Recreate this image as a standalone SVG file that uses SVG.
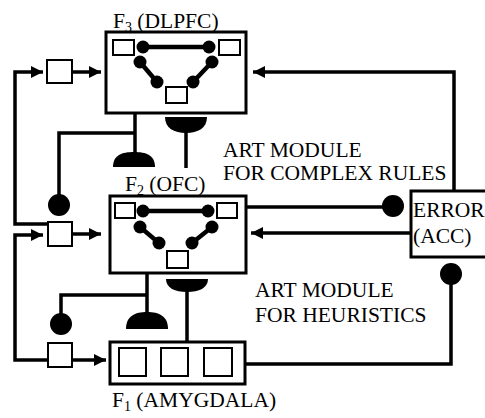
<svg xmlns="http://www.w3.org/2000/svg" width="485" height="418" viewBox="0 0 485 418" font-family="'Liberation Serif', serif" font-size="21.5">
<defs>
<style>
.box{fill:#fff;stroke:#000;stroke-width:3}
.sq{fill:#fff;stroke:#000;stroke-width:2}
.ln{fill:none;stroke:#000;stroke-width:3.5}
.cn{fill:none;stroke:#000;stroke-width:4.5}
.blk{fill:#000}
.t{font-family:'Liberation Serif', serif;font-size:21.5px;fill:#000}
.sub{font-size:14px}
</style>
<marker id="ah" viewBox="0 0 12 12" refX="12" refY="6" markerWidth="12" markerHeight="12" markerUnits="userSpaceOnUse" orient="auto">
<path d="M0,0 L12,6 L0,12 Z" fill="#000"/>
</marker>
</defs>

<g id="connectors">
<polyline class="ln" points="48,224 15,224 15,72 43,72" marker-end="url(#ah)"/>
<polyline class="ln" points="48,360 15,360 15,235 43,235" marker-end="url(#ah)"/>
<line class="ln" x1="72" y1="72" x2="101" y2="72" marker-end="url(#ah)"/>
<line class="ln" x1="72" y1="234" x2="101" y2="234" marker-end="url(#ah)"/>
<line class="ln" x1="72" y1="360" x2="106" y2="360" marker-end="url(#ah)"/>
<line class="ln" x1="135" y1="113" x2="135" y2="153"/>
<polyline class="ln" points="135,133 59,133 59,205"/>
<circle class="blk" cx="59" cy="205" r="11"/>
<path class="blk" d="M113,167 C113,155 122,152 134,152 C146,152 155,155 155,167 Z"/>
<path class="blk" d="M165,117 L207,117 C207,128 198,133 186,133 C174,133 165,128 165,117 Z"/>
<line class="ln" x1="186" y1="130" x2="186" y2="168"/>
<line class="ln" x1="147" y1="273" x2="147" y2="313"/>
<polyline class="ln" points="147,295 61,295 61,324"/>
<circle class="blk" cx="61" cy="324" r="11"/>
<path class="blk" d="M126,329 C126,316 135,312 147,312 C159,312 168,316 168,329 Z"/>
<path class="blk" d="M166,279 L208,279 C208,288 199,292 187,292 C175,292 166,288 166,279 Z"/>
<line class="ln" x1="187" y1="289" x2="187" y2="342"/>
<polyline class="ln" points="454,191 454,72 253,72" marker-end="url(#ah)"/>
<line class="ln" x1="246" y1="207" x2="393" y2="207"/>
<circle class="blk" cx="393" cy="206" r="11"/>
<line class="ln" x1="411" y1="233" x2="251" y2="233" marker-end="url(#ah)"/>
<polyline class="ln" points="245,364 451,364 451,274"/>
<circle class="blk" cx="451" cy="274" r="11"/>
</g>

<g id="sq3"><rect class="sq" x="47" y="60" width="25" height="23"/></g>
<g id="sq2"><rect class="sq" x="48" y="222" width="24" height="24"/></g>
<g id="sq1"><rect class="sq" x="48" y="343" width="24" height="24"/></g>

<g id="F3">
<rect class="box" x="106" y="32" width="140" height="81"/>
<rect class="sq" x="113" y="40" width="21" height="15"/>
<rect class="sq" x="219" y="40" width="21" height="15"/>
<rect class="sq" x="166" y="87" width="21" height="16"/>
<line class="cn" x1="143" y1="47" x2="209" y2="47"/>
<line class="cn" x1="140" y1="62" x2="157" y2="82"/>
<line class="cn" x1="212" y1="62" x2="193" y2="82"/>
<circle class="blk" cx="143" cy="47" r="6.5"/>
<circle class="blk" cx="209" cy="47" r="6.5"/>
<circle class="blk" cx="140" cy="62" r="6.5"/>
<circle class="blk" cx="157" cy="82" r="6.5"/>
<circle class="blk" cx="212" cy="62" r="6.5"/>
<circle class="blk" cx="193" cy="82" r="6.5"/>
<text class="t" x="113" y="28">F<tspan class="sub" dy="4">3</tspan><tspan dy="-4"> (DLPFC)</tspan></text>
</g>

<g id="F2">
<rect class="box" x="110" y="196" width="136" height="77"/>
<rect class="sq" x="115" y="203" width="20" height="15"/>
<rect class="sq" x="217" y="203" width="20" height="15"/>
<rect class="sq" x="167" y="251" width="21" height="17"/>
<line class="cn" x1="143" y1="211" x2="208" y2="211"/>
<line class="cn" x1="140" y1="227" x2="159" y2="243"/>
<line class="cn" x1="212" y1="227" x2="192" y2="243"/>
<circle class="blk" cx="143" cy="211" r="6.5"/>
<circle class="blk" cx="208" cy="211" r="6.5"/>
<circle class="blk" cx="140" cy="227" r="6.5"/>
<circle class="blk" cx="159" cy="243" r="6.5"/>
<circle class="blk" cx="212" cy="227" r="6.5"/>
<circle class="blk" cx="192" cy="243" r="6.5"/>
<text class="t" x="125" y="191">F<tspan class="sub" dy="4">2</tspan><tspan dy="-4"> (OFC)</tspan></text>
</g>

<g id="F1">
<rect class="box" x="110" y="342" width="135" height="42"/>
<rect class="sq" x="119" y="348" width="27" height="28"/>
<rect class="sq" x="161" y="348" width="27" height="28"/>
<rect class="sq" x="204" y="348" width="28" height="28"/>
<text class="t" x="112" y="407">F<tspan class="sub" dy="4">1</tspan><tspan dy="-4"> (AMYGDALA)</tspan></text>
</g>

<g id="error">
<rect class="box" x="411" y="191" width="80" height="66"/>
<text class="t" x="413" y="217">ERROR</text>
<text class="t" x="413" y="243">(ACC)</text>
</g>

<g id="labels">
<text class="t" x="223" y="157">ART MODULE</text>
<text class="t" x="223" y="180">FOR COMPLEX RULES</text>
<text class="t" x="255" y="297">ART MODULE</text>
<text class="t" x="255" y="322">FOR HEURISTICS</text>
</g>
</svg>
